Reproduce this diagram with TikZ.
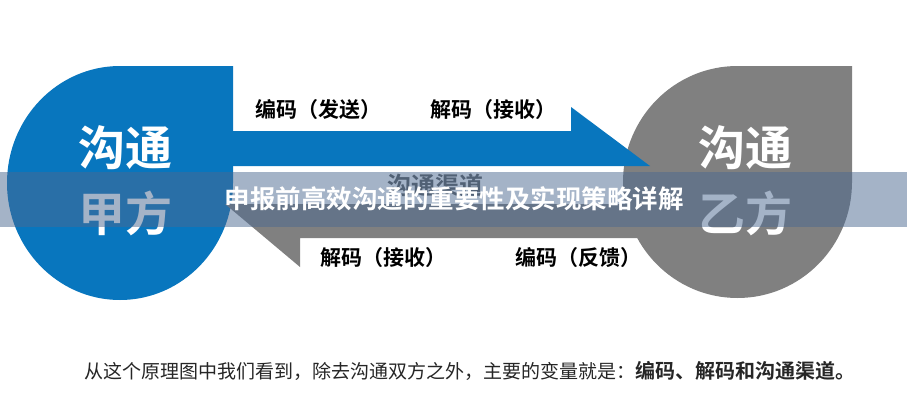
\documentclass[tikz,border=0pt]{standalone}
\usepackage{fontspec}
\newfontfamily\cjk{Noto Sans CJK SC}[BoldFont={Noto Sans CJK SC Bold}]
\definecolor{tblue}{RGB}{8,118,190}
\definecolor{tgray}{RGB}{128,128,128}
\definecolor{banner}{RGB}{75,105,145}
\tikzset{
	bigtxt/.style={text=white,font=\cjk\bfseries\fontsize{47}{47}\selectfont,inner sep=0pt},
	lbl/.style={text=black,font=\cjk\bfseries\fontsize{21}{21}\selectfont,inner sep=0pt},
	chan/.style={text=black!65,font=\cjk\bfseries\fontsize{24}{24}\selectfont,inner sep=0pt}
}

\begin{document}
\begin{tikzpicture}[line join=miter,x=1pt,y=1pt]
			\useasboundingbox (0,0) rectangle (907,400);
			\fill[white] (0,0) rectangle (907,400);
			%甲方 / 乙方
			\fill[tblue] (233,334)-- (233,217) arc[start angle=0,end angle=-270,x radius=113,y radius=117]-- cycle;
			\fill[tgray] (852,334)-- (852,218) arc[start angle=0,end angle=-270,x radius=114.5,y radius=116]-- cycle;
			%反馈
			\fill[tgray] (737,196)-- (225,196)-- (300,133)-- (300,162)-- (737,162)-- cycle;
			%发送
			\fill[tblue] (233,269)-- (571,269)-- (571,293)-- (650,234)-- (233,234)-- cycle;
			\node[bigtxt] (jia1) at (125,252) {沟通};
			\node[bigtxt] (jia2) at (125,187) {甲方};
			\node[bigtxt] (yi1) at (745,252) {沟通};
			\node[bigtxt] (yi2) at (745,187) {乙方};
			\node[lbl] (enc1) at (318,290) {编码（发送）};
			\node[lbl] (dec1) at (493,290) {解码（接收）};
			\node[lbl] (dec2) at (383,142) {解码（接收）};
			\node[lbl] (enc2) at (578,142) {编码（反馈）};
			\node[chan] (qd) at (435,215) {沟通渠道};
			%title bar
			\fill[banner,opacity=0.5] (0,173) rectangle (907,228);
			\node[text=white,font=\cjk\bfseries\fontsize{25.5}{25.5}\selectfont,inner sep=0pt] (title) at (454,201) {申报前高效沟通的重要性及实现策略详解};
			\node[anchor=west,inner sep=0pt,font=\cjk\fontsize{19}{19}\selectfont,text=black!85] (note) at (84,29) {从这个原理图中我们看到，除去沟通双方之外，主要的变量就是：{\bfseries\fontsize{20}{20}\selectfont 编码、解码和沟通渠道。}};
		\end{tikzpicture}
\end{document}
